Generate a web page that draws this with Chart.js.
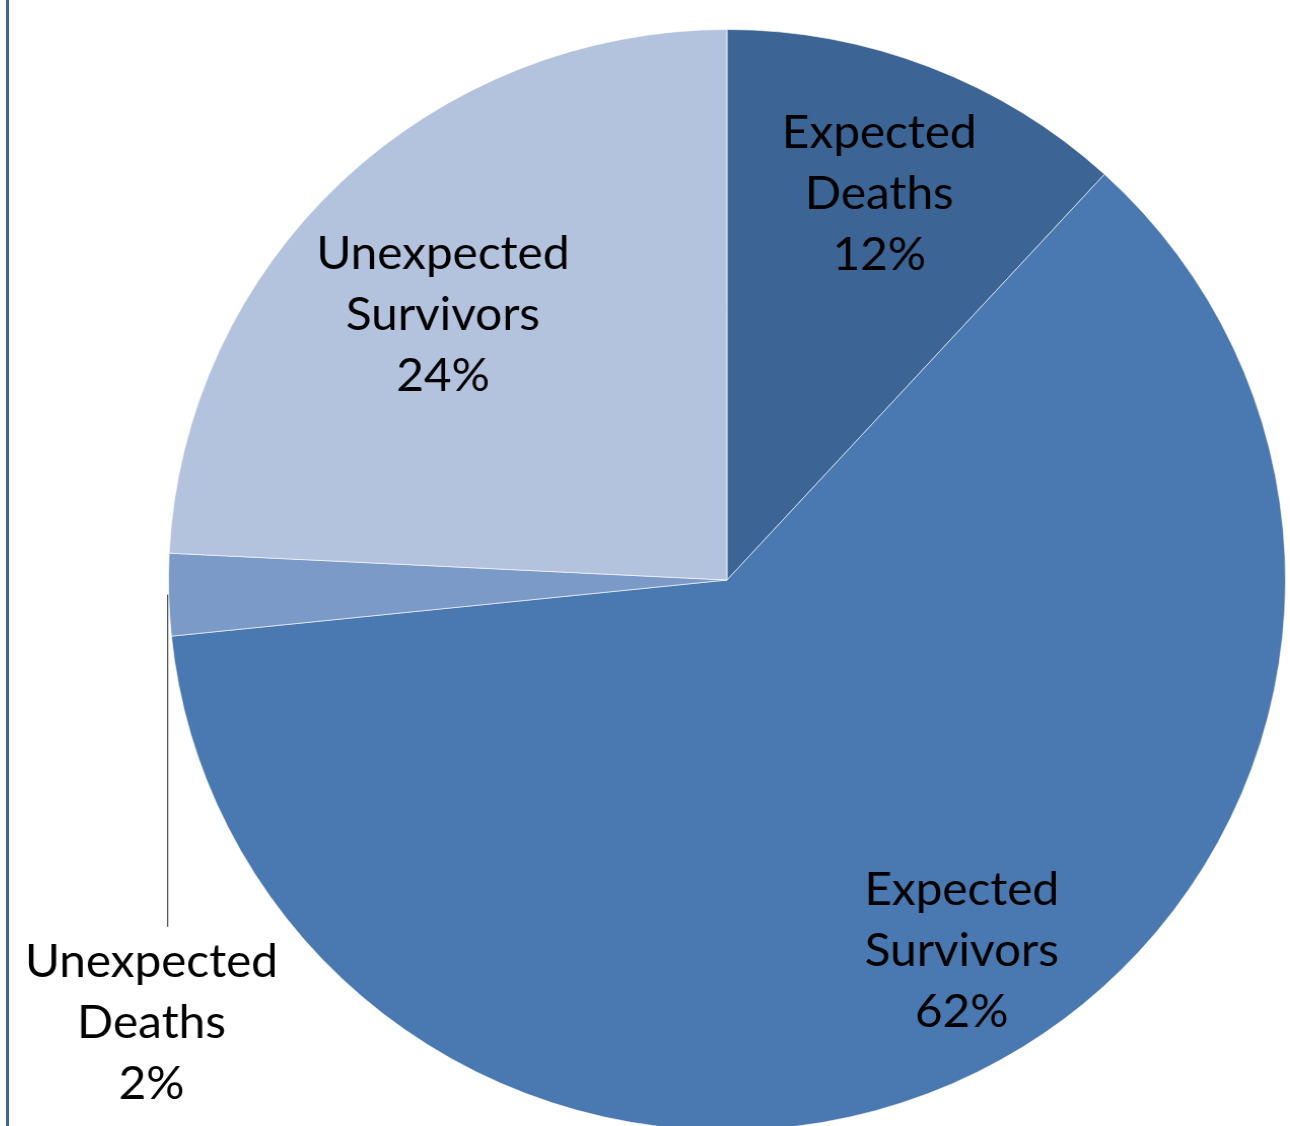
<!DOCTYPE html>
<html>
<head>
<meta charset="utf-8">
<script src="https://cdn.jsdelivr.net/npm/chart.js@4.4.1/dist/chart.umd.min.js"></script>
<style>
  html, body { margin: 0; padding: 0; background: #fff; overflow: hidden; }
  #wrap { position: relative; width: 1290px; height: 1126px; overflow: hidden; }
  #pie_chart { transform: scaleX(1.0145); transform-origin: 727px 0; }
  #frame { position: absolute; left: 6px; top: 0; width: 3px; height: 1126px; background: #3d6596; }
</style>
</head>
<body>
<div id="wrap">
  <canvas id="pie_chart" width="1290" height="1140"></canvas>
  <div id="frame"></div>
</div>
<script>
var categories = ['Expected Deaths', 'Expected Survivors', 'Unexpected Deaths', 'Unexpected Survivors'];
var labelLines = [['Expected', 'Deaths'], ['Expected', 'Survivors'], ['Unexpected', 'Deaths'], ['Unexpected', 'Survivors']];
var values = [11.8, 61.5, 2.4, 24.2];
var sliceColors = ['#3c6494', '#4a78b0', '#7b9ac8', '#b4c3dd'];

// label placement inside each slice: share of radius and angle nudge (degrees)
var labelRadius = [0.752, 0.794, 0, 0.70];
var labelNudge = [0, -5.3, 0, -3];

// draws the text labels, small slices get a leader line and an outside label
var pieLabels = {
    id: 'pieLabels',
    afterDatasetsDraw: function (chart) {
        var ctx = chart.ctx;
        var meta = chart.getDatasetMeta(0);
        var total = values.reduce(function (a, b) { return a + b; }, 0);
        ctx.save();
        ctx.font = '47px Lato, "Open Sans", sans-serif';
        ctx.fillStyle = '#000';
        ctx.textAlign = 'center';
        ctx.textBaseline = 'middle';
        meta.data.forEach(function (arc, i) {
            var p = arc.getProps(['x', 'y', 'startAngle', 'endAngle', 'outerRadius'], true);
            var mid = (p.startAngle + p.endAngle) / 2;
            var pct = Math.round(values[i] / total * 100) + '%';
            var lines = labelLines[i].concat([pct]);
            var lx, ly;
            if (values[i] / total < 0.05) {
                var ex = p.x + Math.cos(mid) * p.outerRadius - 1;
                var ey = p.y + Math.sin(mid) * p.outerRadius;
                var endY = p.y + p.outerRadius * 0.63;
                ctx.strokeStyle = '#222';
                ctx.lineWidth = 1;
                ctx.beginPath();
                ctx.moveTo(ex, ey);
                ctx.lineTo(ex, endY);
                ctx.stroke();
                lx = ex - 16;
                ly = endY + 96;
            } else {
                var a = mid + labelNudge[i] * Math.PI / 180;
                lx = p.x + Math.cos(a) * p.outerRadius * labelRadius[i];
                ly = p.y + Math.sin(a) * p.outerRadius * labelRadius[i];
            }
            lines.forEach(function (t, k) {
                ctx.fillText(t, lx, ly + (k - 1) * 61);
            });
        });
        ctx.restore();
    }
};

var pie_chart = document.getElementById('pie_chart');
var My_pie_chart = new Chart(pie_chart, {
    type: 'pie',
    data: {
        labels: categories,
        datasets: [{
            data: values,
            backgroundColor: sliceColors,
            borderColor: 'rgba(255,255,255,0.6)',
            borderWidth: 1
        }]
    },
    options: {
        responsive: false,
        animation: false,
        layout: { padding: { left: 176, right: 12, top: 29, bottom: 9 } },
        plugins: {
            legend: { display: false },
            tooltip: { enabled: false }
        }
    },
    plugins: [pieLabels]
});
</script>
</body>
</html>
